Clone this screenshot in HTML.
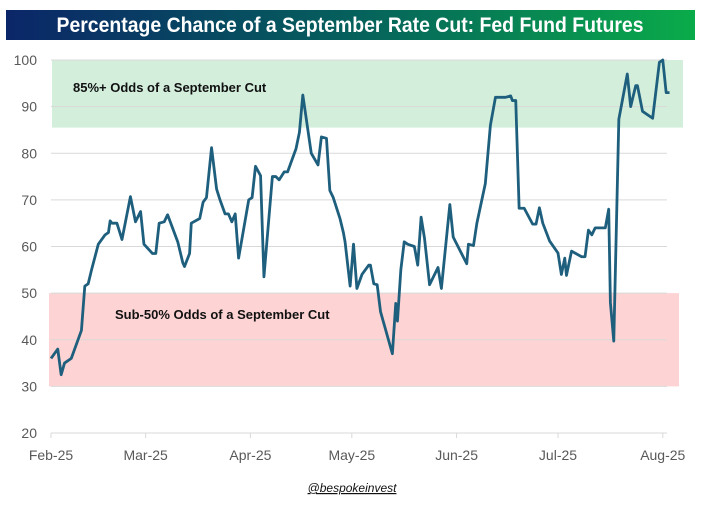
<!DOCTYPE html>
<html><head><meta charset="utf-8"><style>
html,body{margin:0;padding:0;background:#fff;}
svg{display:block;font-family:"Liberation Sans",sans-serif;}
</style></head><body>
<svg id="chart" width="701" height="509" viewBox="0 0 701 509">
<defs><linearGradient id="tg" x1="0" x2="1" y1="0" y2="0"><stop offset="0" stop-color="#0b2668"/><stop offset="0.5" stop-color="#05605c"/><stop offset="1" stop-color="#0aab4a"/></linearGradient></defs>
<rect x="6" y="10" width="689" height="30" fill="url(#tg)"/>
<text x="350" y="32" text-anchor="middle" fill="#fff" font-weight="bold" font-size="21" textLength="587" lengthAdjust="spacingAndGlyphs">Percentage Chance of a September Rate Cut: Fed Fund Futures</text>
<g id="bands"></g>
<g id="grid"></g>
<g id="yticks"></g>
<g id="xticks"></g>
<g id="series"></g>
<text x="352" y="492" text-anchor="middle" font-size="12" font-style="italic" text-decoration="underline" fill="#111">@bespokeinvest</text>
</svg>
<script>
const yTicks=[20,30,40,50,60,70,80,90,100];
const monthLabels=["Feb-25","Mar-25","Apr-25","May-25","Jun-25","Jul-25","Aug-25"];
const monthDays=[0,28,59,89,120,150,181];
const days=[0,2,3,4,6,9,10,11,12,14,16,17,17.5,18,19.5,21,23.5,25,26.5,27.5,30,31,32,33.5,34.5,37.5,39,39.5,41,41.5,44,45,46,47.5,49,50,51.5,52.5,53.5,54.5,55.5,58.5,59.5,60.5,62,63,65.5,66.5,67.5,69,70,72.5,73.5,74.5,76,77,79,80,81.5,82.5,83.5,85.5,86.5,87,88.5,89.5,90.5,92,94,94.5,95.5,96.5,97.5,101,102,102.5,103.5,104.5,105.5,107.5,108.5,109.5,110.5,112,114.5,115.5,118,119,123,123.5,125,126,128.5,130,131.5,134.5,136,136.5,137.5,138.5,140,142.5,143.5,144.5,145.5,147.5,150,151,152,152.5,154,157,158,159,160,161,164,165,165.5,166.5,168,170.5,171.5,173,173.5,175,178,180,181,182,183];
const odds=[36,38,32.5,35,36,42,51.5,52,55,60.5,62.5,63,65.5,65,65,61.5,70.7,65.3,67.5,60.5,58.5,58.5,65,65.3,66.8,61,56.5,55.7,58.5,65,66,69.5,70.5,81.2,72.3,70,67,67,65.3,67,57.5,70,70.5,77.2,75.2,53.5,75,75,74.3,76,76,81,84.5,92.5,85,80,77.5,83.5,83.2,72,70.5,66,63,61,51.5,60.5,51,54,56,56,52,51.8,46,37,47.8,44,55,61,60.5,60,56,66.3,61.8,51.8,55.5,51,69,62,56.3,60.5,60.2,65,73.5,86,92,92,92.3,91.3,91.3,68.2,68.2,64.8,64.8,68.3,65,61.2,58.6,54,57.5,53.8,59,57.8,57.8,63.5,62.5,64,64,68,48,39.7,87.3,97,90,94.5,94.5,89,87.5,99.5,100,93,93];
const bandsData=[{lo:85.5,hi:100,label:"85%+ Odds of a September Cut",fill:"#d3efdc",name:"high-odds-band"},{lo:30,hi:50,label:"Sub-50% Odds of a September Cut",fill:"#fdd3d3",name:"low-odds-band"}];
const NS="http://www.w3.org/2000/svg";
const X=d=>51+d*3.38, Y=v=>433-(v-20)*4.6625;
function mk(t,a,p){const e=document.createElementNS(NS,t);for(const k in a)e.setAttribute(k,a[k]);p.appendChild(e);return e;}
const gB=document.getElementById('bands');
bandsData.forEach((b,i)=>{
 const r=mk('rect',{x:i?49:52,y:Y(b.hi),width:i?630:631,height:Y(b.lo)-Y(b.hi),fill:b.fill},gB);
 
 
 const t=mk('text',{x:i?115:73,y:i?Y(b.hi)-(Y(b.hi)-Y(b.lo))*0.28:Y(b.hi)+32,'font-size':13,'font-weight':'bold',fill:'#111'},gB);
 t.textContent=b.label;
 
 
});
const gG=document.getElementById('grid'),gY=document.getElementById('yticks');
yTicks.forEach(v=>{
 const l=mk('line',{x1:51,x2:667,y1:Y(v),y2:Y(v),stroke:'#d9d9d9','stroke-width':1},gG);
 
 
 const t=mk('text',{x:37,y:Y(v)+5,'text-anchor':'end','font-size':14,fill:'#595959'},gY);
 t.textContent=v;
 
 
});
const gX=document.getElementById('xticks');
monthLabels.forEach((m,i)=>{
 const x=X(monthDays[i]);
 const l=mk('line',{x1:x,x2:x,y1:433,y2:438,stroke:'#d9d9d9'},gX);
 
 
 const t=mk('text',{x:x,y:460,'text-anchor':'middle','font-size':14,fill:'#595959'},gX);
 t.textContent=m;
 
 
});
const p=mk('polyline',{points:days.map((d,i)=>X(d)+','+Y(odds[i])).join(' '),fill:'none',stroke:'#1f5f7e','stroke-width':2.8,'stroke-linejoin':'round'},document.getElementById('series'));


</script>
</body></html>
